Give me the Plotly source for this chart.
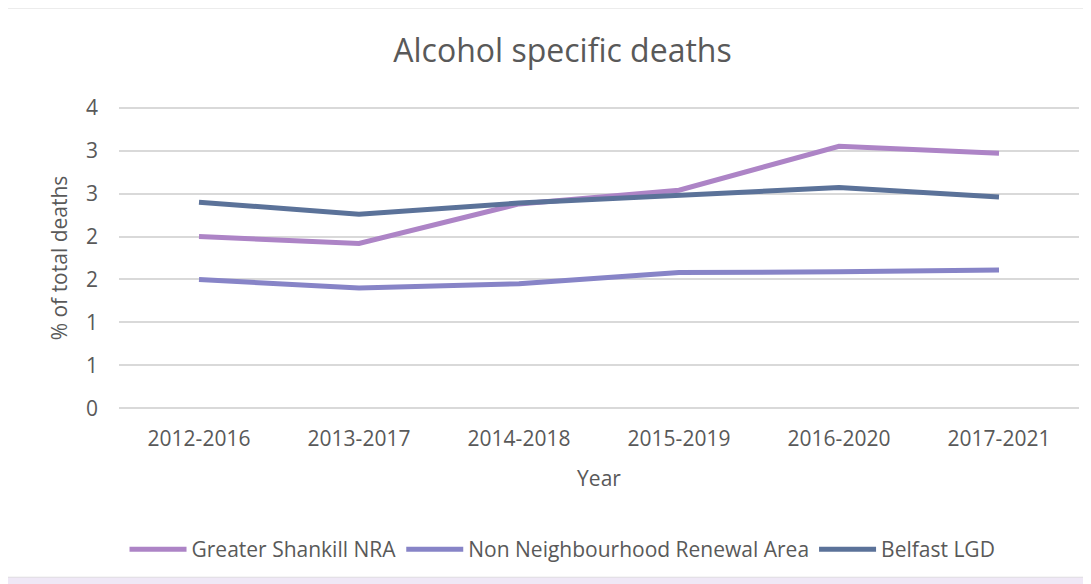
import plotly.graph_objects as go

years = ["2012-2016", "2013-2017", "2014-2018", "2015-2019", "2016-2020", "2017-2021"]
shankill = [2.00, 1.92, 2.38, 2.54, 3.05, 2.97]
non_nra = [1.50, 1.40, 1.45, 1.58, 1.59, 1.61]
belfast = [2.40, 2.26, 2.39, 2.48, 2.57, 2.46]

y_ticks = [0, 0.5, 1, 1.5, 2, 2.5, 3, 3.5]
y_labels = ["0", "1", "1", "2", "2", "3", "3", "4"]

FONT = "'Open Sans', sans-serif"
GREY = "#595959"

series = [
    ("Greater Shankill NRA", shankill, "#ad84c6"),
    ("Non Neighbourhood Renewal Area", non_nra, "#8784c7"),
    ("Belfast LGD", belfast, "#5b7299"),
]

fig = go.Figure()
for name, vals, col in series:
    fig.add_trace(go.Scatter(
        x=years, y=vals, name=name, mode="lines",
        line=dict(color=col, width=5),
    ))

# page body has an 8px margin, so the figure is 8px smaller than the window
fig.update_layout(
    width=1083, height=576,
    paper_bgcolor="white", plot_bgcolor="white",
    font=dict(family=FONT, color=GREY, size=21),
    margin=dict(l=111, r=12, t=98, b=174),
    title=dict(
        text="Alcohol specific deaths", x=0.512, xanchor="center",
        y=0.925, yanchor="middle",
        font=dict(family=FONT, size=32, color=GREY),
    ),
    showlegend=True,
    legend=dict(
        orientation="h", x=0.462, xanchor="center", y=-0.459, yanchor="middle",
        font=dict(family=FONT, size=21, color=GREY),
        bgcolor="rgba(0,0,0,0)", itemwidth=57,
    ),
    xaxis=dict(
        range=[-0.5, 5.5], automargin=False,
        showgrid=False, showline=False, zeroline=False, ticks="",
        tickfont=dict(size=21, color=GREY), ticklabelstandoff=14,
        title=dict(text="Year", font=dict(size=21, color=GREY), standoff=20),
    ),
    yaxis=dict(
        range=[-0.02, 3.52], tickvals=y_ticks, ticktext=y_labels,
        showgrid=True, gridcolor="#d9d9d9", gridwidth=1.5,
        zeroline=False, showline=False, ticks="", automargin=False,
        tickfont=dict(size=21, color=GREY), ticklabelstandoff=20,
        title=dict(text="% of total deaths", font=dict(size=21, color=GREY), standoff=12),
    ),
    shapes=[
        dict(type="rect", xref="paper", yref="paper",
             x0=-0.119, x1=1.1, y0=-0.552, y1=1.324,
             line=dict(color="#d9d9d9", width=2), fillcolor="rgba(0,0,0,0)", layer="below"),
        dict(type="rect", xref="paper", yref="paper",
             x0=-0.119, x1=1.1, y0=-0.6, y1=-0.551,
             line=dict(width=0), fillcolor="#efe8f6", layer="below"),
    ],
)

fig.write_html("out.html")
